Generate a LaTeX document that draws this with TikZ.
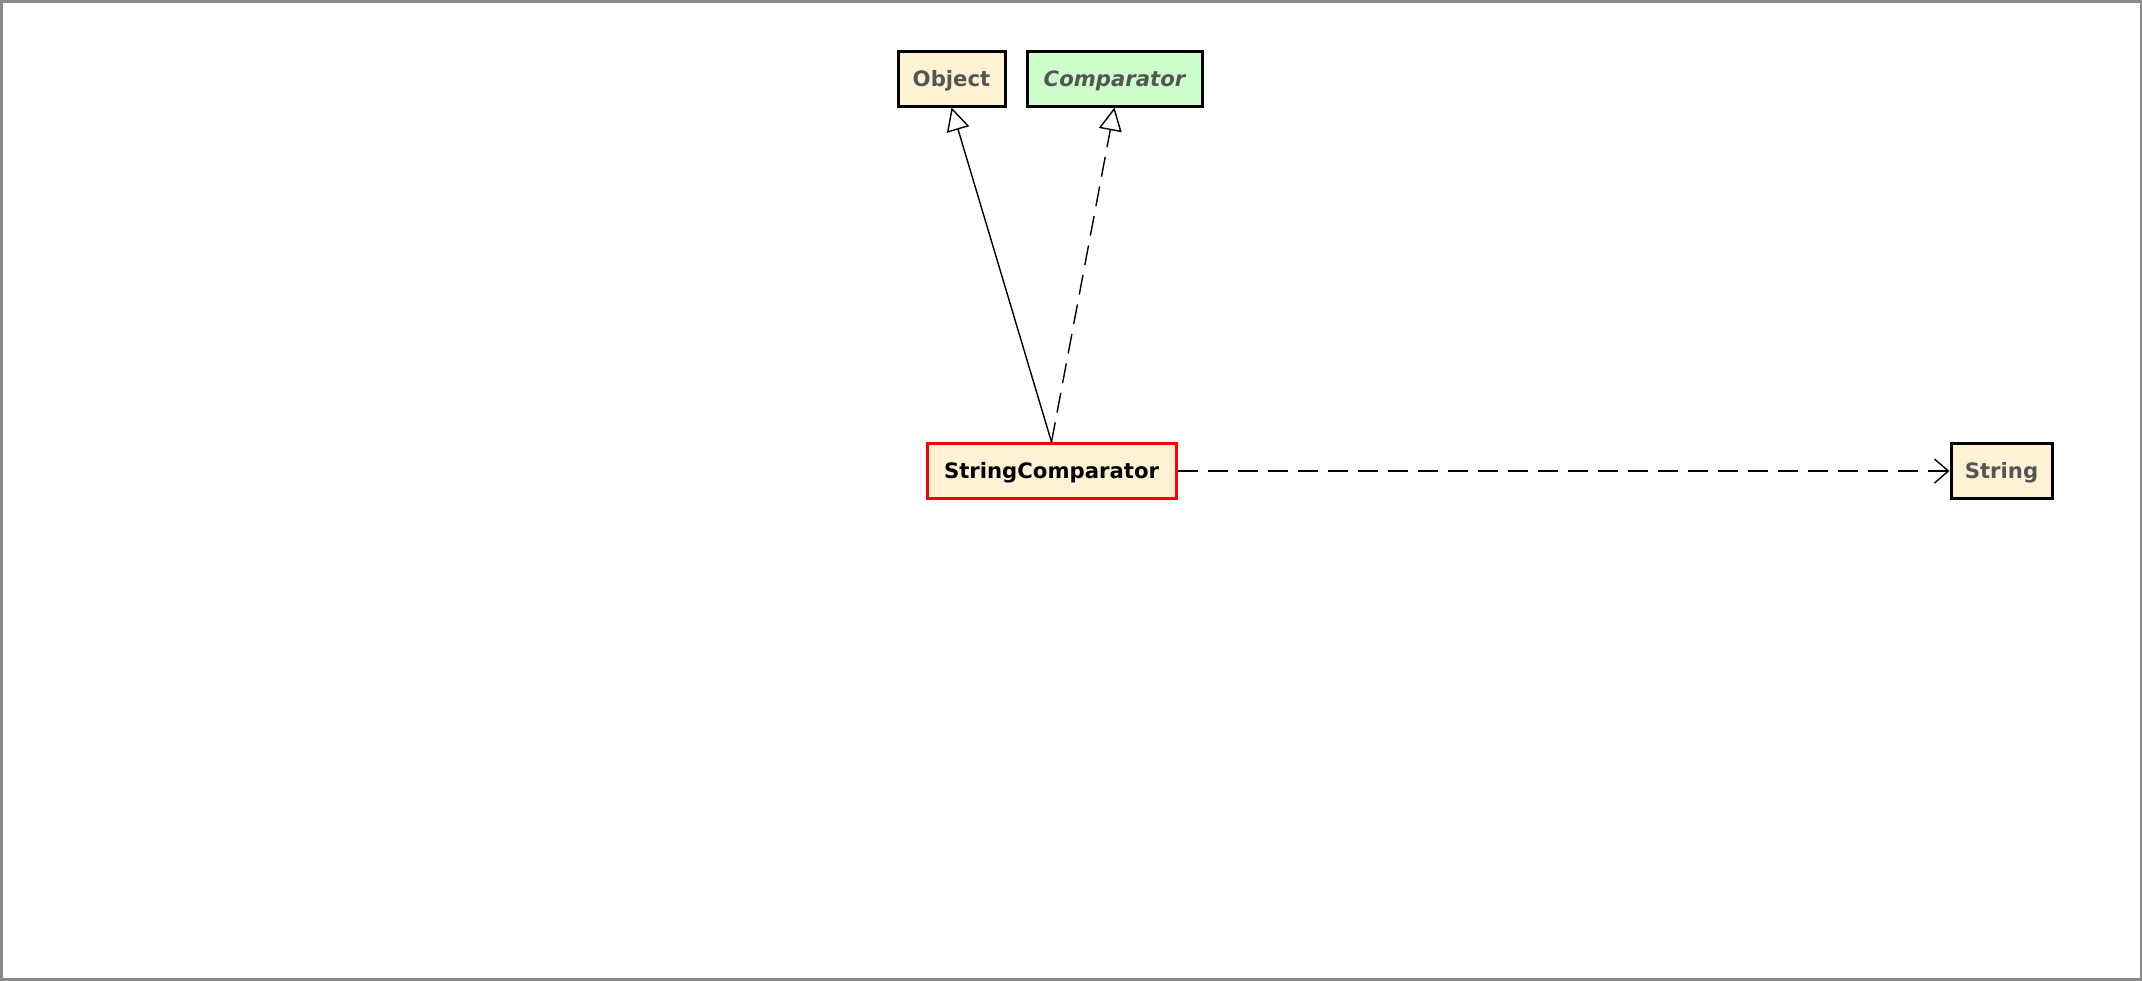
\documentclass[tikz,border=0pt]{standalone}
\usepackage{fontspec}
\setmainfont{DejaVu Sans}
\usetikzlibrary{arrows.meta,positioning}

\definecolor{classfill}{HTML}{FFF2D4}
\definecolor{ifacefill}{HTML}{CCFFCC}
\definecolor{nametext}{HTML}{555555}
\definecolor{framegray}{HTML}{8A8A8A}

\begin{document}
\begin{tikzpicture}[x=0.5pt, y=-0.5pt, font=\fontsize{10.6}{12}\selectfont\bfseries,
    cls/.style={draw, line width=1.5pt, fill=classfill, text=nametext, inner sep=0pt,
        minimum height=27.5pt, text height=7.7pt, text depth=0pt},
    iface/.style={cls, fill=ifacefill, font=\fontsize{10.6}{12}\selectfont\bfseries\itshape},
    focus/.style={cls, draw=red, text=black},
    extends/.style={-{Triangle[open, length=11.5pt, width=11.5pt]}, line width=0.7pt},
    implements/.style={extends, dash pattern=on 10pt off 5pt},
    uses/.style={-{Straight Barb[length=7pt, width=12pt]}, line width=0.7pt, dash pattern=on 10pt off 5pt}]
    % Frame
    \useasboundingbox (0,0) rectangle (2142,980);
    \draw [framegray, line width=1.5pt] (1,1) rectangle (2141,979);

    % Nodes {Object, Comparator, StringComparator, String}
    \node [cls, minimum width=53.5pt]     (object)     at (951.5,78.5)  {Object};
    \node [iface, minimum width=87.5pt]   (comparator) at (1114.5,78.5) {Comparator};
    \node [focus, minimum width=124.5pt]  (strcmp)     at (1051.5,471)  {StringComparator};
    \node [cls, minimum width=50.5pt]     (string)     at (2001.5,471)  {String};

    % Paths
    \draw [extends]     (strcmp.north) -- (object.south);
    \draw [implements]  (strcmp.north) -- (comparator.south);
    \draw [uses]        (strcmp.east)  -- (string.west);
\end{tikzpicture}
\end{document}
